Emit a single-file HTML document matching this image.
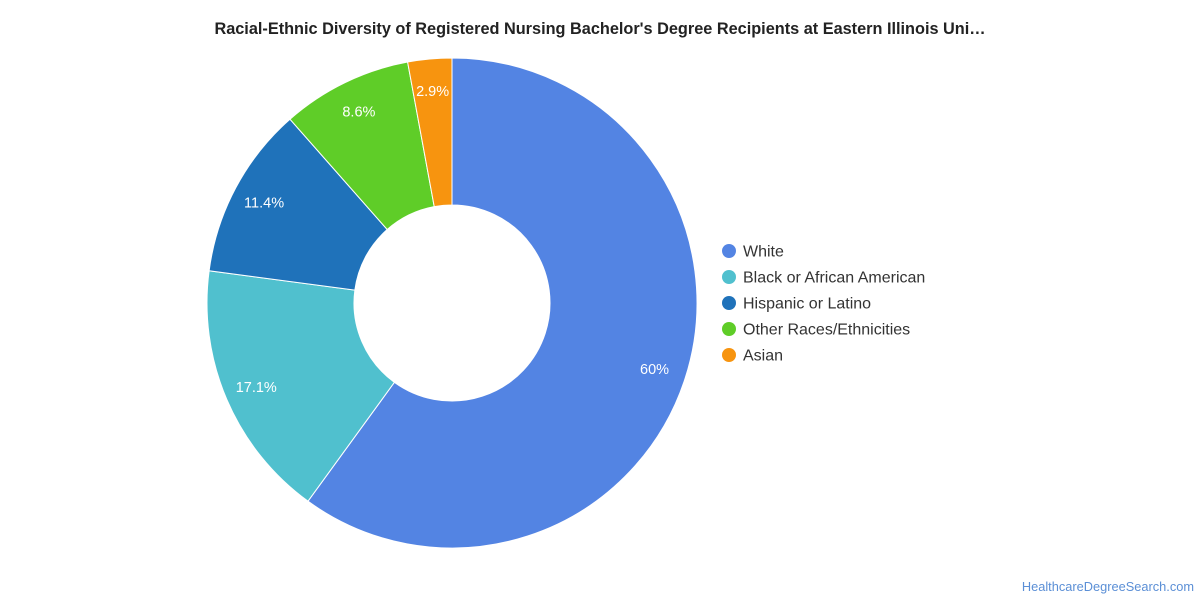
<!DOCTYPE html>
<html>
<head>
<meta charset="utf-8">
<style>
  html,body{margin:0;padding:0;background:#fff;}
  body{width:1200px;height:600px;overflow:hidden;font-family:"Liberation Sans",Roboto,sans-serif;}
</style>
</head>
<body>
<svg id="chart" width="1200" height="600" xmlns="http://www.w3.org/2000/svg">
  <text x="600" y="34" text-anchor="middle" font-size="16.3" font-weight="bold" fill="#222">Racial-Ethnic Diversity of Registered Nursing Bachelor's Degree Recipients at Eastern Illinois Uni…</text>
  <g id="slices"></g>
  <g id="labels"></g>
  <g id="legend"></g>
  <text x="1194" y="591" text-anchor="end" font-size="12.8" fill="#5b8fd6">HealthcareDegreeSearch.com</text>
</svg>
<script>
const categories = ["White","Black or African American","Hispanic or Latino","Other Races/Ethnicities","Asian"];
const values = [60, 17.1, 11.4, 8.6, 2.9];
const valueLabels = ["60%","17.1%","11.4%","8.6%","2.9%"];
const colors = ["#5384e3","#50c0ce","#1f72ba","#5fcd28","#f7940f"];

const NS="http://www.w3.org/2000/svg";
const cx=452, cy=303, R=245, r=98, LR=213;
const total=values.reduce((a,b)=>a+b,0);
const slicesG=document.getElementById('slices');
const labelsG=document.getElementById('labels');
const legendG=document.getElementById('legend');
function pt(rad,a){return [cx+rad*Math.sin(a), cy-rad*Math.cos(a)];}
let acc=0;
values.forEach((v,i)=>{
  const a0=acc/total*2*Math.PI; acc+=v; const a1=acc/total*2*Math.PI;
  const large=(a1-a0)>Math.PI?1:0;
  const [x0,y0]=pt(R,a0),[x1,y1]=pt(R,a1),[x2,y2]=pt(r,a1),[x3,y3]=pt(r,a0);
  const p=document.createElementNS(NS,'path');
  p.setAttribute('d',`M${x0},${y0} A${R},${R} 0 ${large} 1 ${x1},${y1} L${x2},${y2} A${r},${r} 0 ${large} 0 ${x3},${y3} Z`);
  p.setAttribute('fill',colors[i]); p.setAttribute('stroke','#fff'); p.setAttribute('stroke-width','1');
  
  
  slicesG.appendChild(p);
  const am=(a0+a1)/2; const [lx,ly]=pt(LR,am);
  const t=document.createElementNS(NS,'text');
  t.setAttribute('x',lx); t.setAttribute('y',ly+5); t.setAttribute('text-anchor','middle');
  t.setAttribute('font-size','14.5'); t.setAttribute('fill','#fff');
  t.textContent=valueLabels[i];
  
  
  labelsG.appendChild(t);
  const ly2=251+i*26;
  const c=document.createElementNS(NS,'circle');
  c.setAttribute('cx',729); c.setAttribute('cy',ly2); c.setAttribute('r',7); c.setAttribute('fill',colors[i]);
  
  
  legendG.appendChild(c);
  const lt=document.createElementNS(NS,'text');
  lt.setAttribute('x',743); lt.setAttribute('y',ly2+5.5); lt.setAttribute('font-size','16'); lt.setAttribute('fill','#333');
  lt.textContent=categories[i];
  
  
  legendG.appendChild(lt);
});
</script>
</body>
</html>
